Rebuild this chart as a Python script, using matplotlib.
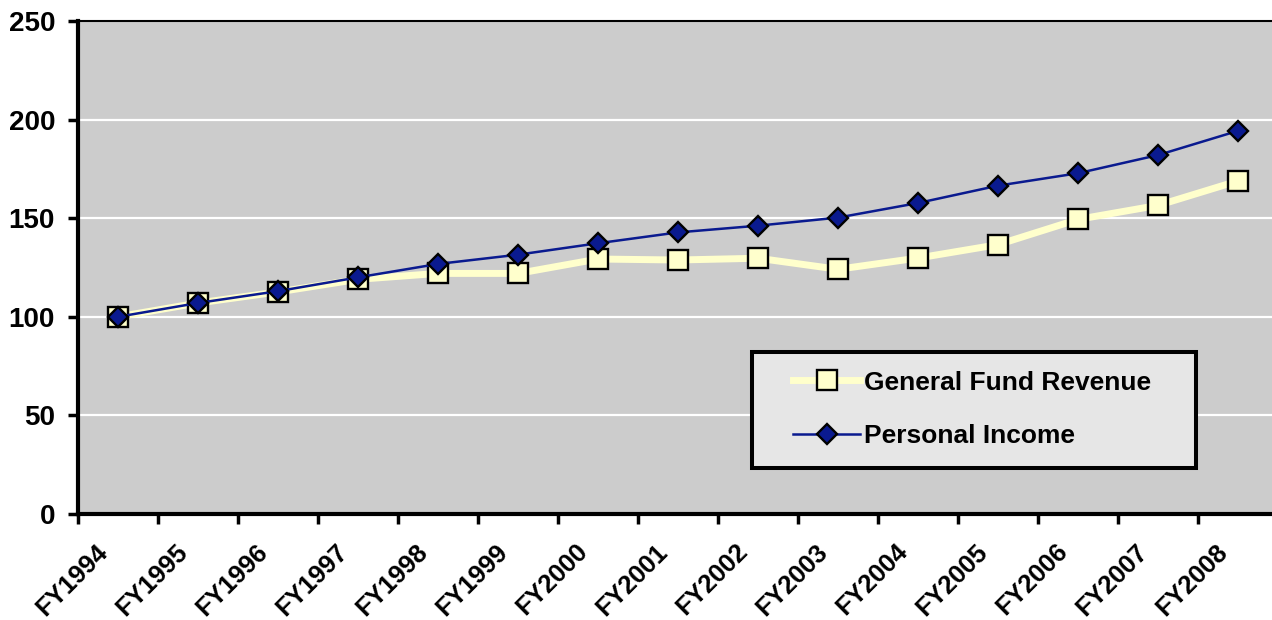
import matplotlib
matplotlib.use("Agg")
import matplotlib.pyplot as plt
from matplotlib.patches import Rectangle
from matplotlib.transforms import ScaledTranslation

categories = ["FY1994", "FY1995", "FY1996", "FY1997", "FY1998", "FY1999", "FY2000",
              "FY2001", "FY2002", "FY2003", "FY2004", "FY2005", "FY2006", "FY2007", "FY2008"]
general_fund = [100, 107, 112.6, 119, 122, 122, 129.3, 128.8, 129.7, 124.1, 129.8, 136.6, 149.4, 156.5, 168.9]
personal_income = [100, 107, 113, 120, 126.8, 131.5, 137.3, 142.8, 146.2, 150.3, 157.7, 166.5, 172.8, 182, 194.3]
y_ticks = [0, 50, 100, 150, 200, 250]

plt.rcParams['font.family'] = ['Liberation Sans', 'DejaVu Sans']
plt.rcParams['font.weight'] = 'bold'

fig = plt.figure(figsize=(12.72, 6.2), dpi=100)
ax = fig.add_axes([78/1272, 106/620, 1200/1272, 493/620])
ax.set_facecolor('#CCCCCC')

x = list(range(len(categories)))
gold_col = '#FFFFCC'
navy = '#0A1A8F'

ax.plot(x, general_fund, color=gold_col, lw=5, marker='s', ms=14, mfc=gold_col,
        mec='black', mew=1.7, zorder=3, label='General Fund Revenue')
ax.plot(x, personal_income, color=navy, lw=1.8, marker='D', ms=10.5, mfc=navy,
        mec='black', mew=1.7, zorder=4, label='Personal Income')

ax.set_xlim(-0.5, len(categories) - 0.5)
ax.set_ylim(0, 250)
ax.set_yticks(y_ticks)
ax.set_yticklabels([str(v) for v in y_ticks], fontsize=20, fontweight='bold')
for v in y_ticks[1:-1]:
    ax.axhline(v, color='white', lw=1.6, zorder=1)

ax.set_xticks([i - 0.5 for i in range(len(categories) + 1)])
ax.set_xticklabels([])
ax.set_xticks(x, minor=True)
ax.set_xticklabels(categories, minor=True, rotation=45, ha='right', va='center',
                   rotation_mode='anchor', fontsize=18.5, fontweight='bold')
ax.tick_params(axis='x', which='minor', length=0, pad=14)
ax.tick_params(axis='x', which='major', direction='out', length=7, width=2.5)
ax.tick_params(axis='y', direction='out', length=7, width=2.5, pad=9.5)
offset = ScaledTranslation(-14/100, -14.5/100, fig.dpi_scale_trans)
for lab in ax.get_xticklabels(minor=True):
    lab.set_transform(lab.get_transform() + offset)

for s in ['left', 'bottom']:
    ax.spines[s].set_linewidth(3)
    ax.spines[s].set_color('black')
ax.spines['top'].set_linewidth(1.5)
ax.spines['top'].set_color('black')
ax.spines['right'].set_visible(False)

box = Rectangle((674/1200, 46/493), 444/1200, 116/493, transform=ax.transAxes,
                facecolor='#E6E6E6', edgecolor='black', lw=2.9, zorder=5)
ax.add_patch(box)
leg = ax.legend(loc='center left', bbox_to_anchor=(715/1200, 104.5/493), fontsize=19,
                frameon=False, handlelength=2.55, handletextpad=0.15, labelspacing=1.12,
                borderpad=0, borderaxespad=0)
leg.set_zorder(6)
for t in leg.get_texts():
    t.set_fontweight('bold')

fig.savefig('out.png', dpi=100)
